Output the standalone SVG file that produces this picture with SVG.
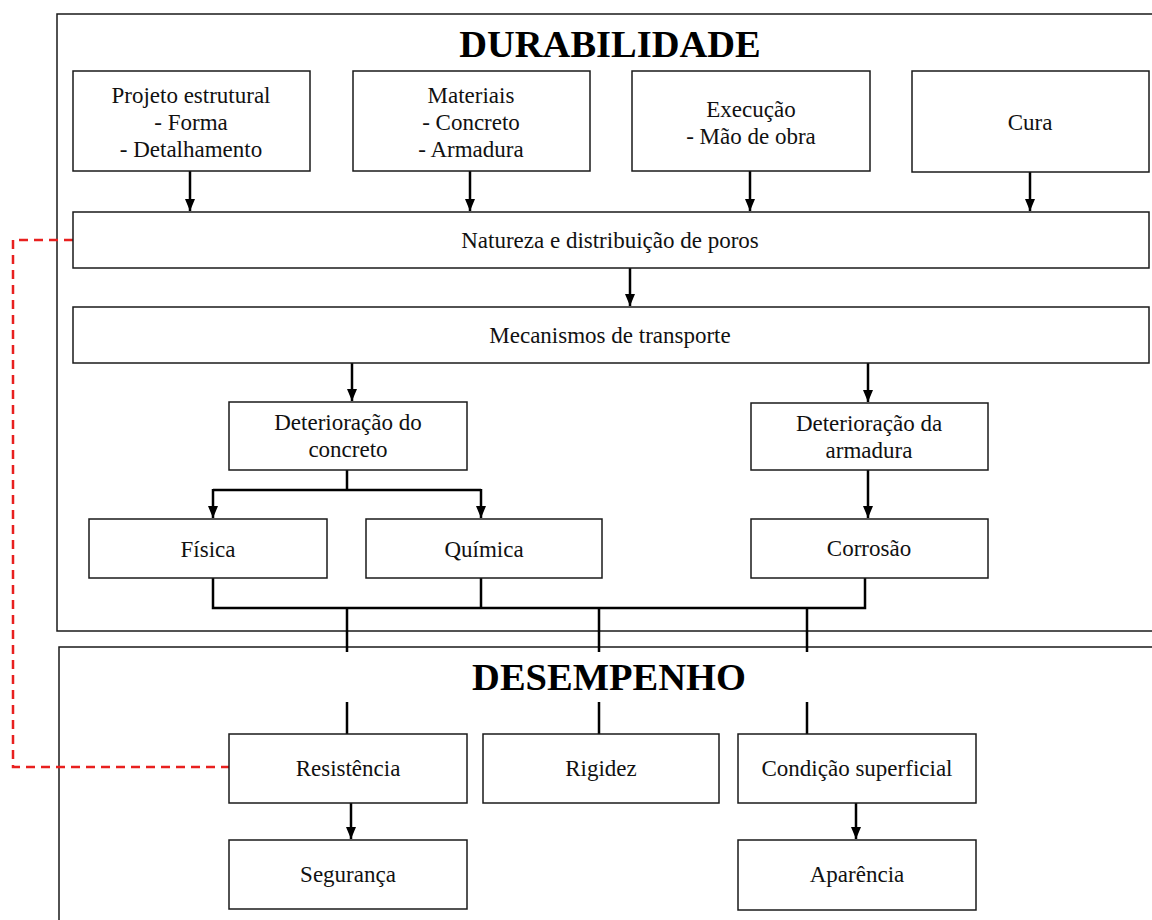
<svg xmlns="http://www.w3.org/2000/svg" width="1152" height="920" viewBox="0 0 1152 920">
<style>
.box{fill:#fff;stroke:#1a1a1a;stroke-width:1.5}
.frame{fill:none;stroke:#1a1a1a;stroke-width:1.5}
.t{font-family:"Liberation Serif","Times New Roman",serif;font-size:23px;fill:#111;text-anchor:middle}
.h{font-family:"Liberation Serif","Times New Roman",serif;font-size:38.5px;font-weight:bold;fill:#000;text-anchor:middle}
.c{fill:none;stroke:#000;stroke-width:2.5}
.a{fill:none;stroke:#000;stroke-width:2.5;marker-end:url(#ah)}
.d{fill:none;stroke:#e8201f;stroke-width:2.5;stroke-dasharray:9 6}
</style>
<defs>
<marker id="ah" viewBox="0 0 12 10" refX="12" refY="5" markerWidth="12" markerHeight="10" markerUnits="userSpaceOnUse" orient="auto">
<path d="M0,0 L12,5 L0,10 Z" fill="#000"/>
</marker>
</defs>
<rect width="1152" height="920" fill="#fff"/>
<g id="durabilidade">
<rect class="frame" x="57" y="14" width="1110" height="617"/>
<text class="h" x="610" y="57">DURABILIDADE</text>
</g>
<g id="desempenho">
<rect class="frame" x="59" y="647" width="1110" height="290"/>
<text class="h" x="609" y="690">DESEMPENHO</text>
</g>
<g id="connectors">
<path class="d" d="M73,240 H13 V767 H229"/>
<line class="a" x1="190" y1="171" x2="190" y2="211"/>
<line class="a" x1="470" y1="171" x2="470" y2="211"/>
<line class="a" x1="750" y1="171" x2="750" y2="211"/>
<line class="a" x1="1030" y1="172" x2="1030" y2="211"/>
<line class="a" x1="630" y1="268" x2="630" y2="306"/>
<line class="a" x1="352" y1="363" x2="352" y2="401"/>
<line class="a" x1="868" y1="363" x2="868" y2="402"/>
<path class="c" d="M347,470 V490 M213,490 H481"/>
<line class="a" x1="213" y1="489" x2="213" y2="518"/>
<line class="a" x1="481" y1="489" x2="481" y2="518"/>
<line class="a" x1="868" y1="470" x2="868" y2="518"/>
<path class="c" d="M213,578 V608 H865 V578 M481,578 V608"/>
<path class="c" d="M347,608 V652 M599,608 V652 M807,608 V652"/>
<path class="c" d="M347,702 V734 M599,702 V734 M807,702 V734"/>
<line class="a" x1="351" y1="803" x2="351" y2="839"/>
<line class="a" x1="856" y1="803" x2="856" y2="839"/>
</g>
<g id="projeto">
<rect class="box" x="73" y="71" width="237" height="100"/>
<text class="t" x="191" y="103">Projeto estrutural</text>
<text class="t" x="191" y="130">- Forma</text>
<text class="t" x="191" y="157">- Detalhamento</text>
</g>
<g id="materiais">
<rect class="box" x="353" y="71" width="237" height="100"/>
<text class="t" x="471" y="103">Materiais</text>
<text class="t" x="471" y="130">- Concreto</text>
<text class="t" x="471" y="157">- Armadura</text>
</g>
<g id="execucao">
<rect class="box" x="632" y="71" width="238" height="100"/>
<text class="t" x="751" y="117">Execução</text>
<text class="t" x="751" y="144">- Mão de obra</text>
</g>
<g id="cura">
<rect class="box" x="912" y="71" width="237" height="101"/>
<text class="t" x="1030" y="130">Cura</text>
</g>
<g id="natureza">
<rect class="box" x="73" y="212" width="1076" height="56"/>
<text class="t" x="610" y="248">Natureza e distribuição de poros</text>
</g>
<g id="mecanismos">
<rect class="box" x="73" y="307" width="1076" height="56"/>
<text class="t" x="610" y="343">Mecanismos de transporte</text>
</g>
<g id="det-concreto">
<rect class="box" x="229" y="402" width="238" height="68"/>
<text class="t" x="348" y="430">Deterioração do</text>
<text class="t" x="348" y="457">concreto</text>
</g>
<g id="det-armadura">
<rect class="box" x="751" y="403" width="237" height="67"/>
<text class="t" x="869" y="431">Deterioração da</text>
<text class="t" x="869" y="458">armadura</text>
</g>
<g id="fisica">
<rect class="box" x="89" y="519" width="238" height="59"/>
<text class="t" x="208" y="557">Física</text>
</g>
<g id="quimica">
<rect class="box" x="366" y="519" width="236" height="59"/>
<text class="t" x="484" y="557">Química</text>
</g>
<g id="corrosao">
<rect class="box" x="751" y="519" width="237" height="59"/>
<text class="t" x="869" y="556">Corrosão</text>
</g>
<g id="resistencia">
<rect class="box" x="229" y="734" width="238" height="69"/>
<text class="t" x="348" y="776">Resistência</text>
</g>
<g id="rigidez">
<rect class="box" x="483" y="734" width="236" height="69"/>
<text class="t" x="601" y="776">Rigidez</text>
</g>
<g id="condicao">
<rect class="box" x="738" y="734" width="238" height="69"/>
<text class="t" x="857" y="776">Condição superficial</text>
</g>
<g id="seguranca">
<rect class="box" x="229" y="840" width="238" height="69"/>
<text class="t" x="348" y="882">Segurança</text>
</g>
<g id="aparencia">
<rect class="box" x="738" y="840" width="238" height="70"/>
<text class="t" x="857" y="882">Aparência</text>
</g>
</svg>
